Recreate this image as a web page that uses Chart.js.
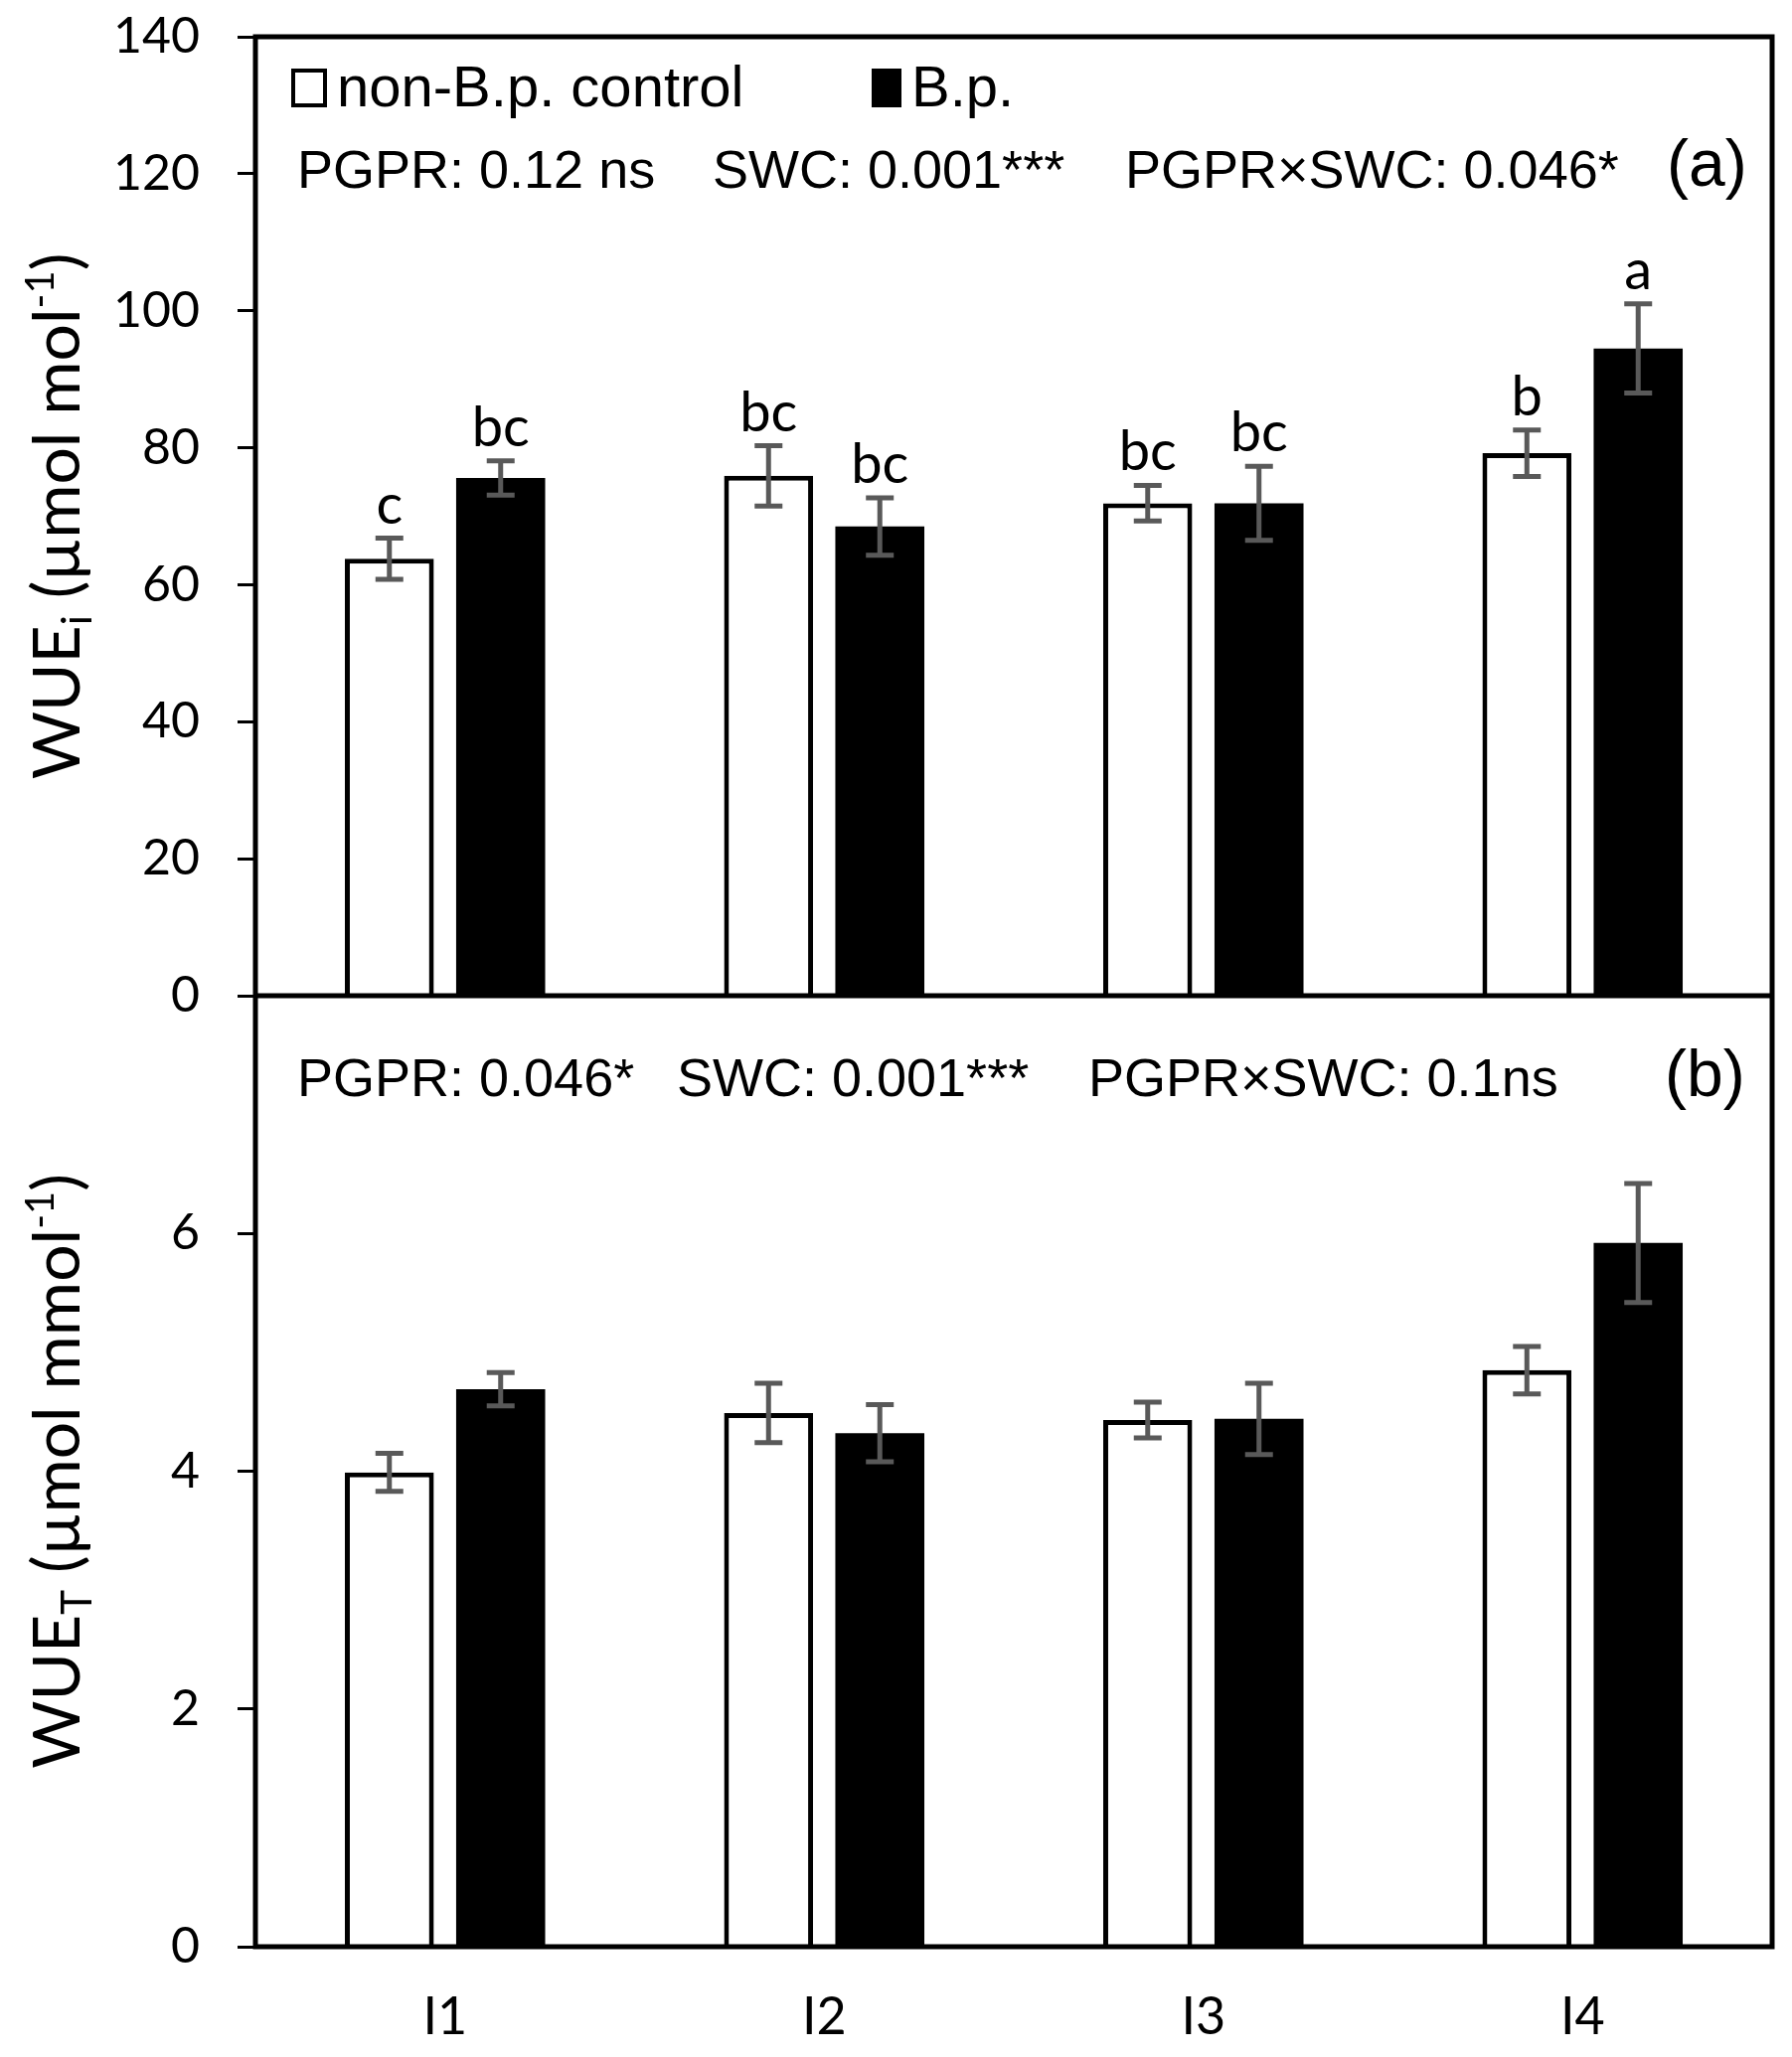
<!DOCTYPE html>
<html>
<head>
<meta charset="utf-8">
<title>WUE</title>
<script src="https://cdn.jsdelivr.net/npm/chart.js@4.4.1/dist/chart.umd.min.js"></script>
<style>
  html, body { margin: 0; padding: 0; background: #fff; }
  #wueChart { display: block; }
</style>
</head>
<body>
<canvas id="wueChart" width="1803" height="2070"></canvas>
<script>
// categories and legend
const categories = ['I1', 'I2', 'I3', 'I4'];
const legendLabels = ['non-B.p. control', 'B.p.'];

// panel (a): WUEi
const wueiControl = [63.8, 75.9, 71.9, 79.2];
const wueiControlErr = [3.0, 4.4, 2.6, 3.4];
const wueiBp = [75.6, 68.5, 71.9, 94.5];
const wueiBpErr = [2.5, 4.2, 5.4, 6.5];
const lettersControl = ['c', 'bc', 'bc', 'b'];
const lettersBp = ['bc', 'bc', 'bc', 'a'];

// panel (b): WUET
const wuetControl = [3.99, 4.49, 4.43, 4.85];
const wuetControlErr = [0.16, 0.25, 0.15, 0.20];
const wuetBp = [4.69, 4.32, 4.44, 5.92];
const wuetBpErr = [0.14, 0.24, 0.30, 0.50];

// tick labels
const wueiTicks = [0, 20, 40, 60, 80, 100, 120, 140];
const wuetTicks = [0, 2, 4, 6];

// stats text
const statsA = ['PGPR: 0.12 ns', 'SWC: 0.001***', 'PGPR\u00d7SWC: 0.046*'];
const statsB = ['PGPR: 0.046*', 'SWC: 0.001***', 'PGPR\u00d7SWC: 0.1ns'];
const panelTags = ['(a)', '(b)'];

const ERR_COLOR = '#595959';

// frame round both panels + middle line
const framePlugin = {
  id: 'frame',
  afterDatasetsDraw(chart) {
    const {ctx, chartArea} = chart;
    const mid = chart.scales.yT.bottom;
    ctx.save();
    ctx.strokeStyle = '#000';
    ctx.lineWidth = 5;
    ctx.strokeRect(chartArea.left, chartArea.top, chartArea.right - chartArea.left, chartArea.bottom - chartArea.top);
    ctx.beginPath();
    ctx.moveTo(chartArea.left, mid);
    ctx.lineTo(chartArea.right, mid);
    ctx.stroke();
    ctx.restore();
  }
};

// error bars and letters
const errorBarPlugin = {
  id: 'errorBars',
  afterDatasetsDraw(chart) {
    const ctx = chart.ctx;
    chart.data.datasets.forEach((ds, i) => {
      const meta = chart.getDatasetMeta(i);
      const yScale = chart.scales[ds.yAxisID];
      meta.data.forEach((bar, j) => {
        const v = ds.data[j];
        const e = ds.err[j];
        const yTop = yScale.getPixelForValue(v + e);
        const yBot = yScale.getPixelForValue(v - e);
        ctx.save();
        ctx.strokeStyle = ERR_COLOR;
        ctx.lineWidth = 5;
        ctx.beginPath();
        ctx.moveTo(bar.x, yTop);
        ctx.lineTo(bar.x, yBot);
        ctx.moveTo(bar.x - 14, yTop);
        ctx.lineTo(bar.x + 14, yTop);
        ctx.moveTo(bar.x - 14, yBot);
        ctx.lineTo(bar.x + 14, yBot);
        ctx.stroke();
        if (ds.letters) {
          ctx.fillStyle = '#000';
          ctx.font = '56px Lato';
          ctx.textAlign = 'center';
          ctx.textBaseline = 'alphabetic';
          ctx.fillText(ds.letters[j], bar.x, yTop - 15);
        }
        ctx.restore();
      });
    });
  }
};

function drawRotatedTitle(ctx, cx, cy, parts) {
  ctx.save();
  ctx.translate(cx, cy);
  ctx.rotate(-Math.PI / 2);
  let total = 0;
  parts.forEach(p => {
    ctx.font = p.size + 'px Lato';
    p.w = ctx.measureText(p.t).width;
    total += p.w;
  });
  let x = -total / 2;
  ctx.fillStyle = '#000';
  ctx.textBaseline = 'alphabetic';
  ctx.textAlign = 'left';
  parts.forEach(p => {
    ctx.font = p.size + 'px Lato';
    ctx.fillText(p.t, x, p.dy);
    x += p.w;
  });
  ctx.restore();
}

// legend, stats, panel tags, axis titles
const textPlugin = {
  id: 'texts',
  afterDraw(chart) {
    const {ctx, chartArea} = chart;
    const yT = chart.scales.yT;
    const yB = chart.scales.yB;
    const L = chartArea.left;
    ctx.save();

    // legend
    ctx.lineWidth = 4;
    ctx.strokeStyle = '#000';
    ctx.fillStyle = '#fff';
    ctx.fillRect(L + 38, 71, 32, 35);
    ctx.strokeRect(L + 38, 71, 32, 35);
    ctx.fillStyle = '#000';
    ctx.fillRect(L + 620, 69, 30, 39);
    ctx.font = '58px "Liberation Sans"';
    ctx.textAlign = 'left';
    ctx.textBaseline = 'alphabetic';
    ctx.fillText(legendLabels[0], L + 82, 107);
    ctx.fillText(legendLabels[1], L + 660, 107);

    // stats (a) and (b)
    ctx.font = '54px "Liberation Sans"';
    const xa = [42, 460, 875];
    statsA.forEach((t, k) => ctx.fillText(t, L + xa[k], yT.top + 152));
    const xb = [42, 424, 838];
    statsB.forEach((t, k) => ctx.fillText(t, L + xb[k], yB.top + 101));
    ctx.font = '66px "Liberation Sans"';
    ctx.fillText(panelTags[0], L + 1420, yT.top + 150);
    ctx.fillText(panelTags[1], L + 1418, yB.top + 101);
    ctx.restore();

    // axis titles
    const cTop = (yT.top + yT.bottom) / 2;
    const cBot = (yB.top + yB.bottom) / 2;
    drawRotatedTitle(ctx, 80, cTop, [
      {t: 'WUE', size: 66, dy: 0},
      {t: 'i', size: 42, dy: 12},
      {t: ' (\u00b5mol mol', size: 66, dy: 0},
      {t: '-1', size: 40, dy: -26},
      {t: ')', size: 66, dy: 0}
    ]);
    drawRotatedTitle(ctx, 80, cBot, [
      {t: 'WUE', size: 66, dy: 0},
      {t: 'T', size: 42, dy: 12},
      {t: ' (\u00b5mol mmol', size: 66, dy: 0},
      {t: '-1', size: 40, dy: -26},
      {t: ')', size: 66, dy: 0}
    ]);
  }
};

function yAxis(min, max, ticks, weight) {
  return {
    type: 'linear',
    position: 'left',
    stack: 'panels',
    stackWeight: weight,
    min: min,
    max: max,
    afterBuildTicks: scale => { scale.ticks = ticks.map(v => ({value: v})); },
    afterFit: scale => {
      scale.width = 257;
      scale.paddingTop = 0;
      scale.paddingBottom = 0;
    },
    grid: {drawOnChartArea: false, drawTicks: true, tickLength: 18, tickWidth: 3, tickColor: '#000'},
    border: {display: false},
    ticks: {color: '#000', padding: 38, font: {family: 'Lato', size: 50}}
  };
}

function buildChart() {
  const ctx = document.getElementById('wueChart').getContext('2d');
  new Chart(ctx, {
    type: 'bar',
    data: {
      labels: categories,
      datasets: [
        {label: legendLabels[0], data: wuetControl, err: wuetControlErr, yAxisID: 'yB', stack: 'w',
         backgroundColor: '#fff', borderColor: '#000', borderWidth: 5},
        {label: legendLabels[1], data: wuetBp, err: wuetBpErr, yAxisID: 'yB', stack: 'b',
         backgroundColor: '#000', borderWidth: 0},
        {label: legendLabels[0], data: wueiControl, err: wueiControlErr, letters: lettersControl, yAxisID: 'yT', stack: 'w',
         backgroundColor: '#fff', borderColor: '#000', borderWidth: 5},
        {label: legendLabels[1], data: wueiBp, err: wueiBpErr, letters: lettersBp, yAxisID: 'yT', stack: 'b',
         backgroundColor: '#000', borderWidth: 0}
      ]
    },
    options: {
      responsive: false,
      animation: false,
      devicePixelRatio: 1,
      layout: {autoPadding: false, padding: {top: 37, right: 20, left: 0, bottom: 0}},
      datasets: {bar: {categoryPercentage: 0.587, barPercentage: 0.8}},
      plugins: {legend: {display: false}, tooltip: {enabled: false}},
      scales: {
        x: {
          grid: {display: false, drawTicks: false},
          border: {display: false},
          afterFit: scale => {
            scale.height = 111;
            scale.paddingLeft = 0;
            scale.paddingRight = 0;
          },
          ticks: {color: '#000', padding: 40, font: {family: 'Lato', size: 52}}
        },
        yB: yAxis(0, 8, wuetTicks, 957),
        yT: yAxis(0, 140, wueiTicks, 965)
      }
    },
    plugins: [framePlugin, errorBarPlugin, textPlugin]
  });
}

Promise.all([
  document.fonts.load('50px Lato'),
  document.fonts.load('50px "Liberation Sans"')
]).then(buildChart, buildChart);
</script>
</body>
</html>
